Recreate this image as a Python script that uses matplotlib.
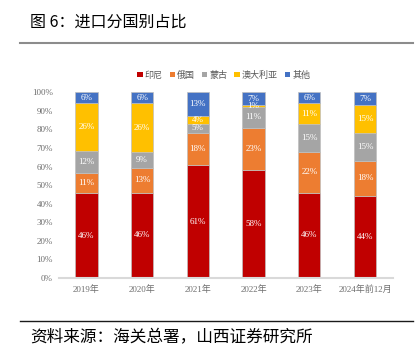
import matplotlib
matplotlib.use("Agg")
import matplotlib.pyplot as plt
from matplotlib.patches import Patch
from matplotlib.lines import Line2D
import numpy as np

plt.rcParams['font.family'] = ['Liberation Serif', 'Noto Sans CJK SC']

years = ['2019年', '2020年', '2021年', '2022年', '2023年', '2024年前12月']
names = ['印尼', '俄国', '蒙古', '澳大利亚', '其他']
indonesia = [45.6, 46.0, 60.6, 58.0, 46.0, 44.4]
russia = [10.8, 13.0, 17.7, 23.0, 22.0, 18.4]
mongolia = [12.0, 9.0, 4.8, 11.0, 15.0, 15.4]
australia = [25.7, 26.0, 3.9, 1.0, 11.0, 14.8]
others = [5.9, 6.0, 13.0, 7.0, 6.0, 7.0]
colors = ['#C00000', '#ED7D31', '#A5A5A5', '#FFC000', '#4472C4']

fig = plt.figure(figsize=(4.18, 3.56), dpi=100)
ax = fig.add_axes([0.140, 0.219, 0.800, 0.522])

x = np.arange(len(years))
bottom = np.zeros(len(years))
for name, vals, c in zip(names, [indonesia, russia, mongolia, australia, others], colors):
    vals = np.array(vals)
    ax.bar(x, vals / 100, 0.4, bottom=bottom / 100, color=c, edgecolor='#BFBFBF',
           linewidth=0.5, label=name)
    for xi, b, v in zip(x, bottom, vals):
        ax.text(xi, (b + v / 2) / 100, f'{v:.0f}%', ha='center', va='center',
                color='white', fontsize=6.5)
    bottom += vals

ax.set_xlim(-0.5, len(years) - 0.5)
ax.set_ylim(0, 1.0)
ax.set_yticks(np.arange(0, 1.01, 0.1))
ax.set_yticklabels([f'{int(round(t * 100))}%' for t in np.arange(0, 1.01, 0.1)])
ax.set_xticks(x)
ax.set_xticklabels(years)
ax.tick_params(axis='both', length=0, labelsize=6.5, labelcolor='#6E6E6E')
ax.tick_params(axis='y', pad=4)
ax.tick_params(axis='x', pad=5)
for s in ['top', 'right', 'left']:
    ax.spines[s].set_visible(False)
ax.spines['bottom'].set_color('#D9D9D9')
ax.spines['bottom'].set_linewidth(1.5)

handles = [Patch(facecolor=c, edgecolor='none') for c in colors]
fig.legend(handles, names, loc='center', bbox_to_anchor=(0.535, 0.789), ncol=5,
           frameon=False, fontsize=6.5, labelcolor='#595959', handlelength=0.6,
           handleheight=0.6, handletextpad=0.2, columnspacing=0.8)

# title / source and rules
fig.text(0.072, 0.938, '图 6：进口分国别占比', fontsize=11.5, va='center', ha='left',
         family=['Noto Sans CJK SC'])
fig.add_artist(Line2D([0.048, 0.988], [0.879, 0.879], color='#8C8C8C', lw=1.5))
fig.add_artist(Line2D([0.048, 0.988], [0.098, 0.098], color='#1A1A1A', lw=1.0))
fig.text(0.072, 0.050, '资料来源：海关总署，山西证券研究所', fontsize=12, va='center',
         ha='left', family=['Noto Sans CJK SC'])

fig.savefig('out.png', dpi=100)
